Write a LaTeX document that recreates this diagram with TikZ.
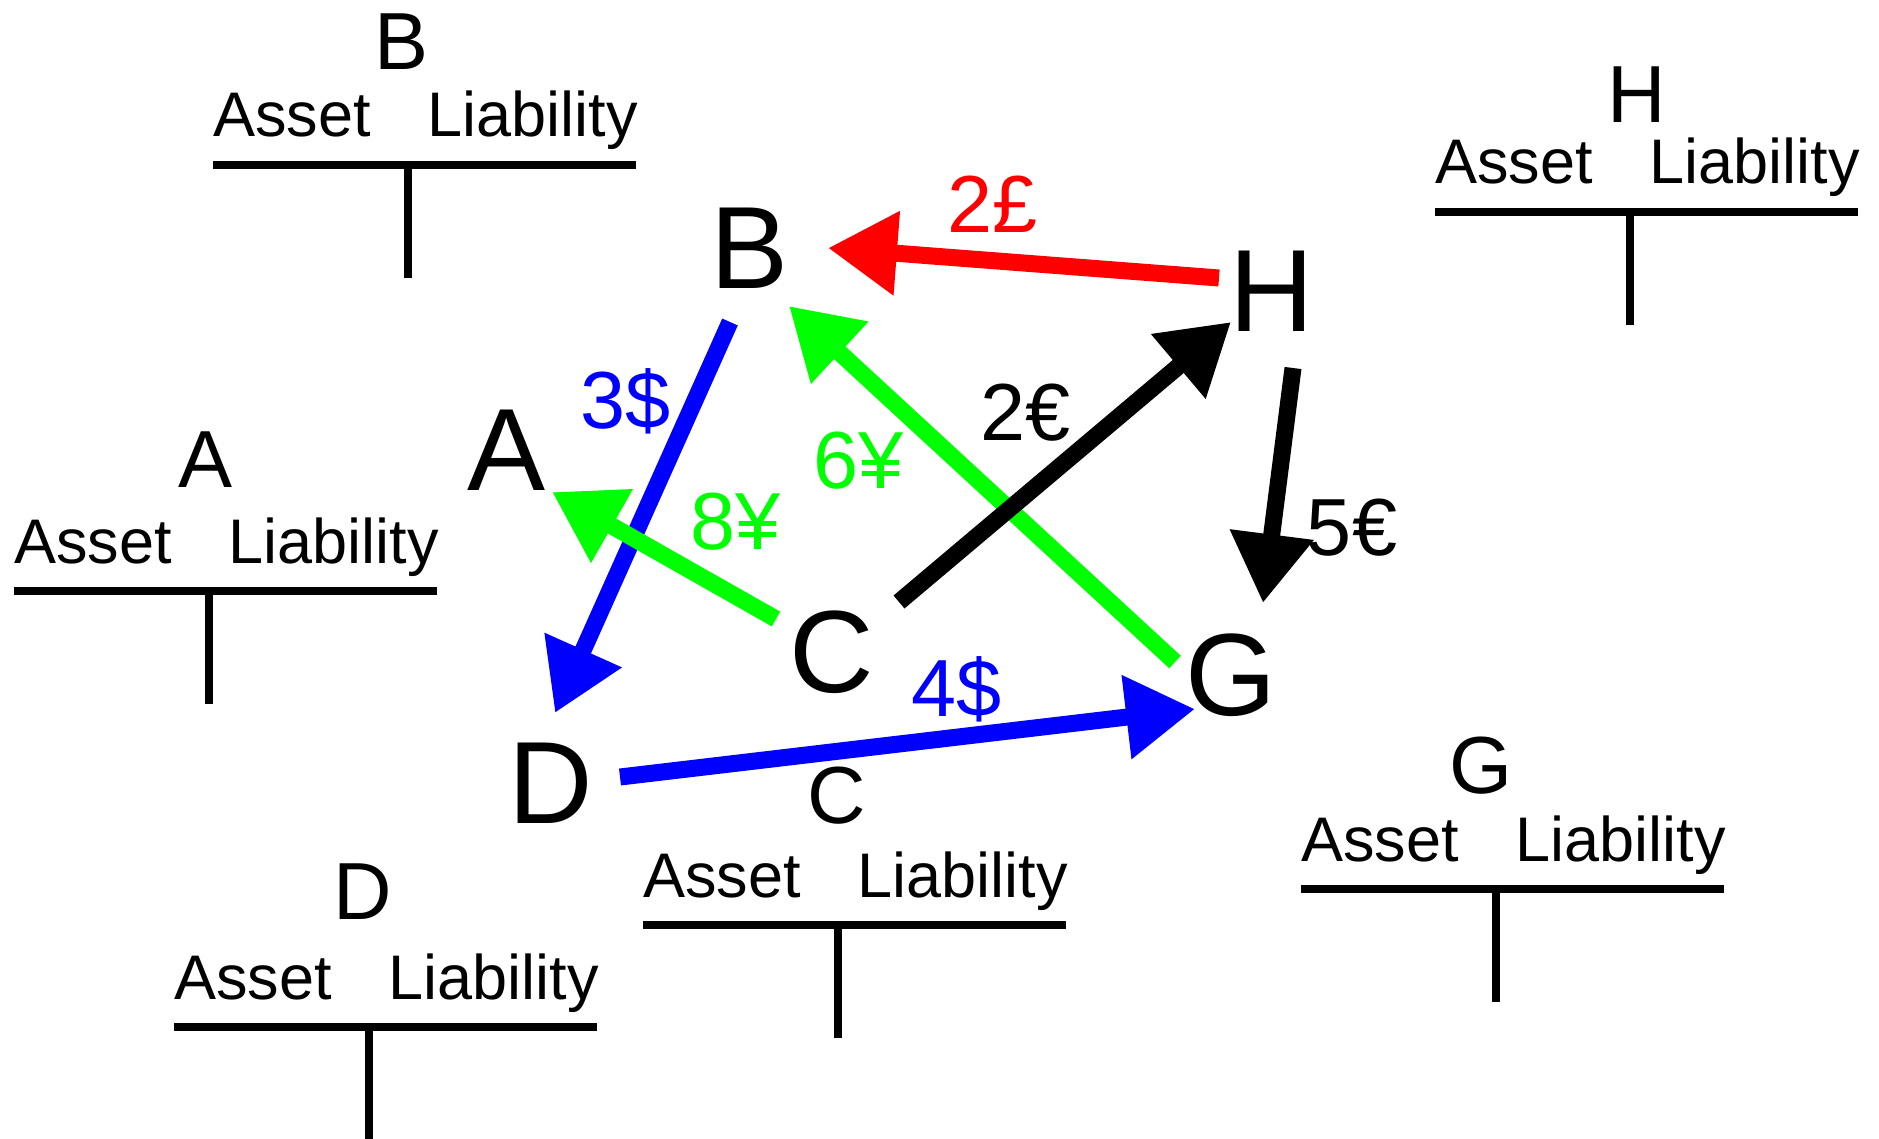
\documentclass[tikz,border=0pt]{standalone}
\usepackage{fontspec}
\setmainfont{Liberation Sans}
\usetikzlibrary{arrows.meta}
\definecolor{pgreen}{RGB}{0,255,0}
\definecolor{pred}{RGB}{255,0,0}
\definecolor{pblue}{RGB}{0,0,255}
\tikzset{
  big/.style={font=\fontsize{117}{120}\selectfont, inner sep=0pt, anchor=base},
  lbl/.style={font=\fontsize{81}{84}\selectfont, inner sep=0pt, anchor=base},
  ttl/.style={font=\fontsize{81}{84}\selectfont, inner sep=0pt, anchor=base},
  acct/.style={font=\fontsize{63}{66}\selectfont, inner sep=0pt},
  tline/.style={line width=7.3pt},
  flow/.style={line width=17pt, -{Triangle[length=69pt,width=80pt]}}
}
% #1 name, #2 x0, #3 line y, #4 title x, #5 title baseline
\newcommand{\taccount}[5]{%
  \node[ttl] (acc#1-t) at (#4,#5) {#1};
  \node[acct, anchor=base west] (acc#1-a) at (#2,#3-28) {Asset};
  \node[acct, anchor=base east] (acc#1-l) at (#2+425,#3-28) {Liability};
  \draw[tline] (#2,#3) -- (#2+423,#3);
  \draw[tline] (#2+195,#3) -- (#2+195,#3+113);
}
\begin{document}
\begin{tikzpicture}[x=1pt,y=-1pt]
\useasboundingbox (0,0) rectangle (1879,1139);

% T-accounts
\taccount{B}{213}{165}{402}{70}
\taccount{A}{14}{591}{206}{487}
\taccount{H}{1435}{212}{1637}{123}
\taccount{C}{643}{925}{837}{823}
\taccount{D}{174}{1027}{363}{919}
\taccount{G}{1301}{889}{1481}{793}

% big letters
\node[big] (B) at (750,289) {B};
\node[big] (H) at (1272,332) {H};
\node[big] (A) at (507,490) {A};
\node[big] (C) at (832,692) {C};
\node[big] (G) at (1231,715) {G};
\node[big] (D) at (551,823) {D};

% arrow end points
\coordinate (hb1) at (1219,278); \coordinate (hb2) at (828,248);
\coordinate (bd1) at (730,322);  \coordinate (bd2) at (555,713);
\coordinate (ca1) at (776,619);  \coordinate (ca2) at (552,492);
\coordinate (gb1) at (1175,662); \coordinate (gb2) at (789,306);
\coordinate (ch1) at (899,602);  \coordinate (ch2) at (1231,322);
\coordinate (hg1) at (1293,368); \coordinate (hg2) at (1263,603);
\coordinate (dg1) at (620,777);  \coordinate (dg2) at (1195,709);

% arrows
\draw[flow, pred] (hb1) -- (hb2);
\draw[flow, pblue] (bd1) -- (bd2);
\draw[flow, pgreen] (ca1) -- (ca2);
\draw[flow, pgreen] (gb1) -- (gb2);
\draw[flow, black] (ch1) -- (ch2);
\draw[flow, black] (hg1) -- (hg2);
\draw[flow, pblue] (dg1) -- (dg2);

% labels
\node[lbl, text=pred] (l2p) at (993,233) {2£};
\node[lbl, text=pblue] (l3d) at (626,428) {3\$};
\node[lbl, text=pgreen] (l8y) at (736,549) {8¥};
\node[lbl, text=pgreen] (l6y) at (859,488) {6¥};
\node[lbl, text=black] (l2e) at (1026,440) {2€};
\node[lbl, text=black] (l5e) at (1352,555) {5€};
\node[lbl, text=pblue] (l4d) at (957,716) {4\$};
\end{tikzpicture}
\end{document}
